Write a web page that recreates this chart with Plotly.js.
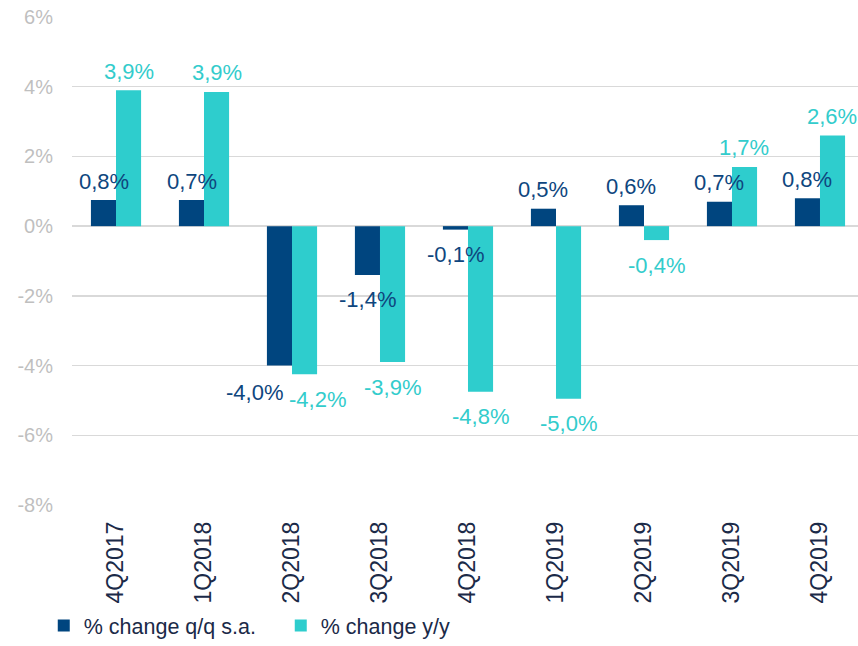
<!DOCTYPE html>
<html>
<head>
<meta charset="utf-8">
<script src="https://cdn.plot.ly/plotly-3.0.1.min.js"></script>
<style>html,body{margin:0;padding:0;background:#fff;}#chart{width:858px;height:646px;}</style>
</head>
<body>
<div id="chart"></div>
<script>
// ---- data ----
var categories = ["4Q2017","1Q2018","2Q2018","3Q2018","4Q2018","1Q2019","2Q2019","3Q2019","4Q2019"];
var qqValues = [0.75, 0.75, -4.0, -1.4, -0.1, 0.5, 0.6, 0.7, 0.8];
var qqLabels = ["0,8%","0,7%","-4,0%","-1,4%","-0,1%","0,5%","0,6%","0,7%","0,8%"];
var yyValues = [3.9, 3.85, -4.25, -3.9, -4.75, -4.95, -0.4, 1.7, 2.6];
var yyLabels = ["3,9%","3,9%","-4,2%","-3,9%","-4,8%","-5,0%","-0,4%","1,7%","2,6%"];
var seriesNames = ["% change q/q s.a.", "% change y/y"];
var yTickVals = [6, 4, 2, 0, -2, -4, -6, -8];
var yTickText = ["6%","4%","2%","0%","-2%","-4%","-6%","-8%"];

// ---- styles ----
var navy = "#00457F";
var teal = "#2ECDCD";
var labelNavy = "#0E467E";
var labelTeal = "#33CCCC";
var fontFam = "Liberation Sans, Arial, sans-serif";
// extra label nudges (style only): [dx, dy] in px
var qqNudge = {2: [-25, -2]};
var yyNudge = {2: [13, 0]};

var traces = [
  {type: "bar", x: categories, y: qqValues, name: seriesNames[0], marker: {color: navy}, hoverinfo: "skip"},
  {type: "bar", x: categories, y: yyValues, name: seriesNames[1], marker: {color: teal}, hoverinfo: "skip"}
];

var annotations = [];
function addLabels(vals, labels, color, baseShift, nudges) {
  for (var i = 0; i < vals.length; i++) {
    var n = nudges[i] || [0, 0];
    var pos = vals[i] >= 0;
    annotations.push({
      x: categories[i], y: vals[i], xref: "x", yref: "y",
      text: labels[i], showarrow: false,
      xanchor: "center", yanchor: "middle",
      xshift: baseShift + n[0],
      yshift: (pos ? 19 : -25) + n[1],
      font: {family: fontFam, size: 22, color: color}
    });
  }
}
addLabels(qqValues, qqLabels, labelNavy, -12.5, qqNudge);
addLabels(yyValues, yyLabels, labelTeal, 12.5, yyNudge);

var layout = {
  width: 858, height: 646,
  margin: {l: 72, r: 0, t: 17, b: 141, autoexpand: false},
  paper_bgcolor: "#ffffff", plot_bgcolor: "#ffffff",
  font: {family: fontFam},
  barmode: "group", bargap: 0.43, bargroupgap: 0,
  showlegend: true,
  legend: {
    orientation: "h", x: 0.051, xref: "container",
    y: 0.0, yref: "container", yanchor: "bottom",
    xanchor: "left",
    font: {family: fontFam, size: 21.5, color: "#1B2A48"},
    traceorder: "normal", itemclick: false,
    entrywidth: 192, entrywidthmode: "pixels"
  },
  xaxis: {
    type: "category", range: [-0.5, 8.432], automargin: false,
    tickangle: -90, tickfont: {family: fontFam, size: 23, color: "#1B2A48"},
    showgrid: false, showline: false, zeroline: false, ticks: "",
    ticklabelstandoff: 11, fixedrange: true
  },
  yaxis: {
    range: [-8, 6], tickvals: yTickVals, ticktext: yTickText, automargin: false,
    tickfont: {family: fontFam, size: 20, color: "#BFBFBF"},
    showgrid: true, gridcolor: "#D9D9D9", gridwidth: 1.5,
    zeroline: true, zerolinecolor: "#D9D9D9", zerolinewidth: 1.5,
    showline: false, ticks: "", ticklabelstandoff: 18, fixedrange: true
  },
  annotations: annotations
};

Plotly.newPlot("chart", traces, layout, {displayModeBar: false, staticPlot: true});
</script>
</body>
</html>
